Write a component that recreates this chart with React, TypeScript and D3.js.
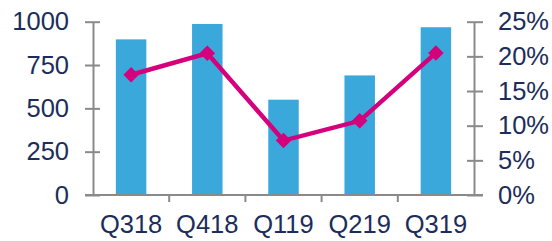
import React, { useEffect, useRef } from "react";
import * as d3 from "d3";

// Quarterly values (bars, left axis) and rate (line, right axis, %)
const quarters = ["Q318", "Q418", "Q119", "Q219", "Q319"];
const volumes = [898, 987, 550, 690, 968];
const rates = [17.35, 20.45, 7.85, 10.7, 20.5];
const leftTicks = [0, 250, 500, 750, 1000];
const rightTicks = [0, 5, 10, 15, 20, 25];

export default function App() {
  const chartRef = useRef<SVGSVGElement>(null);

  useEffect(() => {
    const svg = d3.select(chartRef.current);
    svg.selectAll("*").remove();

    const left = 93;
    const right = 474;
    const top = 21.7;
    const bottom = 195;
    const textColor = "#1c2d5a";
    const axisColor = "#8a8a8a";
    const font = "'Liberation Sans', Arial, sans-serif";

    const x = d3.scaleBand().domain(quarters).range([left, right]);
    const yLeft = d3.scaleLinear().domain([0, 1000]).range([bottom, top]);
    const yRight = d3.scaleLinear().domain([0, 25]).range([bottom, top]);

    // Bars
    const barW = x.bandwidth() * 0.4;
    svg
      .append("g")
      .selectAll("rect")
      .data(volumes)
      .join("rect")
      .attr("x", (d, i) => x(quarters[i])! + x.bandwidth() / 2 - barW / 2)
      .attr("y", (d) => yLeft(d))
      .attr("width", barW)
      .attr("height", (d) => bottom - yLeft(d))
      .attr("fill", "#3aa8db");

    // Left axis
    const gl = svg.append("g").attr("transform", `translate(${left},0)`);
    gl.call(
      d3
        .axisLeft(yLeft)
        .tickValues(leftTicks)
        .tickFormat((d) => `${d}`)
        .tickSize(8)
        .tickSizeOuter(0)
        .tickPadding(16)
    );
    // Right axis
    const gr = svg.append("g").attr("transform", `translate(${right},0)`);
    gr.call(
      d3
        .axisRight(yRight)
        .tickValues(rightTicks)
        .tickFormat((d) => `${d}%`)
        .tickSize(9)
        .tickSizeOuter(0)
        .tickPadding(15)
    );
    // ticks cross the axis line
    gl.selectAll(".tick line").attr("x1", 7).attr("x2", -8);
    gr.selectAll(".tick line").attr("x1", -7).attr("x2", 9);

    // Bottom axis with ticks at band boundaries
    const gb = svg.append("g").attr("transform", `translate(0,${bottom})`);
    gb.append("line")
      .attr("x1", left - 8)
      .attr("x2", right + 9)
      .attr("stroke", axisColor)
      .attr("stroke-width", 2);
    gb.selectAll("line.sep")
      .data(quarters.slice(1))
      .join("line")
      .attr("class", "sep")
      .attr("x1", (d) => x(d)!)
      .attr("x2", (d) => x(d)!)
      .attr("y1", 0)
      .attr("y2", 7)
      .attr("stroke", axisColor)
      .attr("stroke-width", 2);
    gb.selectAll("text")
      .data(quarters)
      .join("text")
      .attr("x", (d) => x(d)! + x.bandwidth() / 2)
      .attr("y", 38)
      .attr("text-anchor", "middle")
      .text((d) => d);

    svg.selectAll(".domain").attr("stroke", axisColor).attr("stroke-width", 2);
    svg.selectAll(".tick line").attr("stroke", axisColor).attr("stroke-width", 2);
    svg
      .selectAll("text")
      .attr("fill", textColor)
      .attr("font-family", font)
      .attr("font-size", 25.5);

    // Line
    const line = d3
      .line<number>()
      .x((d, i) => x(quarters[i])! + x.bandwidth() / 2)
      .y((d) => yRight(d));
    svg
      .append("path")
      .datum(rates)
      .attr("d", line)
      .attr("fill", "none")
      .attr("stroke", "#d5007c")
      .attr("stroke-width", 4.5);

    svg
      .append("g")
      .selectAll("path")
      .data(rates)
      .join("path")
      .attr("d", d3.symbol(d3.symbolSquare, 120))
      .attr(
        "transform",
        (d, i) => `translate(${x(quarters[i])! + x.bandwidth() / 2},${yRight(d)}) rotate(45)`
      )
      .attr("fill", "#d5007c");
  }, []);

  return (
    <svg
      ref={chartRef}
      width={552}
      height={241}
      style={{ position: "absolute", left: 0, top: 0, background: "#fff" }}
    ></svg>
  );
}
